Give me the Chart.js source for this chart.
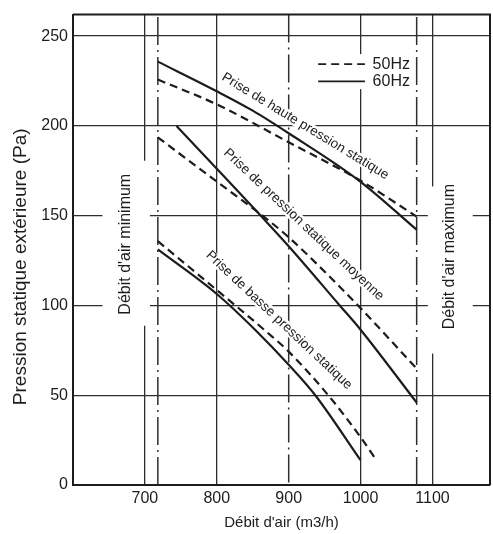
<!DOCTYPE html>
<html>
<head>
<meta charset="utf-8">
<script src="https://cdn.jsdelivr.net/npm/chart.js@4.4.0/dist/chart.umd.min.js"></script>
<style>
  html, body { margin: 0; padding: 0; background: #fff; }
  #chart { display: block; }
</style>
</head>
<body>
<canvas id="chart" width="493" height="534"></canvas>
<script>
// axis ticks
const xTicks = [700, 800, 900, 1000, 1100];
const yTicks = [0, 50, 100, 150, 200, 250];

// airflow limits (m3/h)
const minFlow = 718;
const maxFlow = 1078;

// curves: airflow (m3/h) -> external static pressure (Pa)
const hauteFlow60 = [718, 800, 850, 900, 1000, 1078];
const hautePres60 = [235.8, 219.3, 208.5, 195.9, 168.9, 142.2];
const hauteFlow50 = [718, 800, 900, 1000, 1078];
const hautePres50 = [225.8, 212, 190.9, 169.5, 149.5];

const moyenneFlow60 = [744, 800, 860, 900, 971, 1000, 1078];
const moyennePres60 = [200, 176.2, 150.5, 133, 100, 86.5, 45.9];
const moyenneFlow50 = [718, 800, 870, 900, 930, 1000, 1078];
const moyennePres50 = [193.6, 169, 148, 138, 126.7, 98.5, 64.8];

const basseFlow60 = [718, 800, 856, 900, 937, 1000];
const bassePres60 = [131.2, 106.4, 85.4, 67, 50, 13.8];
const basseFlow50 = [718, 800, 869, 900, 955, 1000, 1022];
const bassePres50 = [135.8, 108.6, 85.4, 74.3, 50, 26.6, 13.8];

const legendNames = ['50Hz', '60Hz'];

const FONT = '"Liberation Sans", Arial, Helvetica, sans-serif';
const INK = '#1c1c1c';
const GRID = '#2e2e2e';
const DASH = [8, 5];
const DASH_DOT = [28, 5, 2, 5];

const toPoints = (xs, ys) => xs.map((v, i) => ({ x: v, y: ys[i] }));

function curve(xs, ys, dashed) {
    return {
        data: toPoints(xs, ys),
        showLine: true,
        borderColor: INK,
        borderWidth: 2.2,
        borderDash: dashed ? DASH : [],
        pointRadius: 0,
        cubicInterpolationMode: 'monotone'
    };
}

function limitLine(v) {
    return {
        data: [{ x: v, y: 0 }, { x: v, y: 262 }],
        showLine: true,
        borderColor: GRID,
        borderWidth: 1.5,
        borderDash: DASH_DOT,
        pointRadius: 0
    };
}

// label placements (data coords) for the notes drawn on the chart
const curveLabels = [
    { text: 'Prise de haute pression statique', at: [923, 199.8], angle: 31.3 },
    { text: 'Prise de pression statique moyenne', at: [920.8, 145], angle: 43.3 },
    { text: 'Prise de basse pression statique', at: [886.5, 91.8], angle: 43.3 }
];
const sideNotes = [
    { text: 'Débit d\'air minimum', at: [672.6, 134.1], box: [641, 707, 180.6, 88.7] },
    { text: 'Débit d\'air maximum', at: [1124, 127.2], box: [1093.5, 1156, 166.3, 73.2] }
];

function dashDotLine(ctx, px, top, bottom) {
    ctx.save();
    ctx.strokeStyle = GRID;
    ctx.lineWidth = 1.5;
    ctx.setLineDash(DASH_DOT);
    ctx.beginPath();
    ctx.moveTo(px, top);
    ctx.lineTo(px, bottom);
    ctx.stroke();
    ctx.restore();
}

const notes = {
    id: 'notes',
    beforeDatasetsDraw(chart) {
        const { ctx, chartArea: a, scales: { x, y } } = chart;
        ctx.save();

        // the 900 grid line is dash-dot in the original
        dashDotLine(ctx, x.getPixelForValue(900), a.top, a.bottom);

        // vertical notes on both sides, with a white band behind them
        sideNotes.forEach(n => {
            const x0 = x.getPixelForValue(n.box[0]), x1 = x.getPixelForValue(n.box[1]);
            const y0 = y.getPixelForValue(n.box[2]), y1 = y.getPixelForValue(n.box[3]);
            ctx.fillStyle = '#fff';
            ctx.fillRect(x0, y0, x1 - x0, y1 - y0);
            ctx.save();
            ctx.translate(x.getPixelForValue(n.at[0]), y.getPixelForValue(n.at[1]));
            ctx.rotate(-Math.PI / 2);
            ctx.font = '16px ' + FONT;
            ctx.fillStyle = INK;
            ctx.textAlign = 'center';
            ctx.textBaseline = 'middle';
            ctx.fillText(n.text, 0, 0);
            ctx.restore();
        });

        // slanted labels along the curves
        ctx.font = '13.5px ' + FONT;
        curveLabels.forEach(l => {
            const w = ctx.measureText(l.text).width;
            ctx.save();
            ctx.translate(x.getPixelForValue(l.at[0]), y.getPixelForValue(l.at[1]));
            ctx.rotate(l.angle * Math.PI / 180);
            ctx.fillStyle = '#fff';
            ctx.fillRect(-w / 2 - 2, -6, w + 4, 12);
            ctx.fillStyle = INK;
            ctx.textAlign = 'center';
            ctx.textBaseline = 'middle';
            ctx.fillText(l.text, 0, 0);
            ctx.restore();
        });

        // legend
        const lx0 = x.getPixelForValue(941), lx1 = x.getPixelForValue(1006);
        const tx = x.getPixelForValue(1016.7);
        const rows = [y.getPixelForValue(234.4), y.getPixelForValue(224.8)];
        ctx.fillStyle = '#fff';
        ctx.fillRect(x.getPixelForValue(937), y.getPixelForValue(240),
            x.getPixelForValue(1072) - x.getPixelForValue(937),
            y.getPixelForValue(220.5) - y.getPixelForValue(240));
        legendNames.forEach((name, i) => {
            ctx.strokeStyle = INK;
            ctx.lineWidth = 1.6;
            ctx.setLineDash(i === 0 ? DASH : []);
            ctx.beginPath();
            ctx.moveTo(lx0, rows[i]);
            ctx.lineTo(lx1, rows[i]);
            ctx.stroke();
            ctx.setLineDash([]);
            ctx.fillStyle = INK;
            ctx.font = '16px ' + FONT;
            ctx.textAlign = 'left';
            ctx.textBaseline = 'middle';
            ctx.fillText(name, tx, rows[i]);
        });
        ctx.restore();
    },
    afterDraw(chart) {
        const { ctx, chartArea: a } = chart;
        ctx.save();
        // top and right frame
        ctx.strokeStyle = INK;
        ctx.lineWidth = 2;
        ctx.beginPath();
        ctx.moveTo(a.left, a.top);
        ctx.lineTo(a.right, a.top);
        ctx.lineTo(a.right, a.bottom);
        ctx.stroke();
        // y axis title
        ctx.translate(21, (a.top + a.bottom) / 2 + 17);
        ctx.rotate(-Math.PI / 2);
        ctx.font = '19px ' + FONT;
        ctx.fillStyle = INK;
        ctx.textAlign = 'center';
        ctx.textBaseline = 'middle';
        ctx.fillText('Pression statique extérieure (Pa)', 0, 0);
        ctx.restore();
    }
};

Chart.defaults.font.family = FONT;
Chart.defaults.color = INK;

new Chart(document.getElementById('chart'), {
    type: 'scatter',
    data: {
        datasets: [
            curve(hauteFlow60, hautePres60, false),
            curve(hauteFlow50, hautePres50, true),
            curve(moyenneFlow60, moyennePres60, false),
            curve(moyenneFlow50, moyennePres50, true),
            curve(basseFlow60, bassePres60, false),
            curve(basseFlow50, bassePres50, true),
            limitLine(minFlow),
            limitLine(maxFlow)
        ]
    },
    options: {
        responsive: false,
        animation: false,
        devicePixelRatio: 1,
        layout: { padding: { top: 10, right: 3, left: 0, bottom: 0 } },
        plugins: {
            legend: { display: false },
            tooltip: { enabled: false }
        },
        scales: {
            x: {
                type: 'linear',
                min: 600,
                max: 1180,
                afterBuildTicks: axis => { axis.ticks = xTicks.map(v => ({ value: v })); },
                afterFit: axis => { axis.height = 49; },
                ticks: { font: { size: 16 }, padding: 4, callback: v => String(v) },
                grid: {
                    drawTicks: false,
                    lineWidth: 1.3,
                    color: c => (c.tick && c.tick.value === 900) ? 'rgba(0,0,0,0)' : GRID
                },
                border: { color: INK, width: 2 },
                title: {
                    display: true,
                    text: 'Débit d\'air (m3/h)',
                    font: { size: 15 },
                    padding: { top: 0, bottom: 2 }
                }
            },
            y: {
                type: 'linear',
                min: 0,
                max: 262,
                afterBuildTicks: axis => { axis.ticks = yTicks.map(v => ({ value: v })); },
                afterFit: axis => { axis.width = 73; },
                ticks: { font: { size: 16 }, padding: 5, callback: v => String(v) },
                grid: { drawTicks: false, lineWidth: 1.3, color: GRID },
                border: { color: INK, width: 2 }
            }
        }
    },
    plugins: [notes]
});
</script>
</body>
</html>
